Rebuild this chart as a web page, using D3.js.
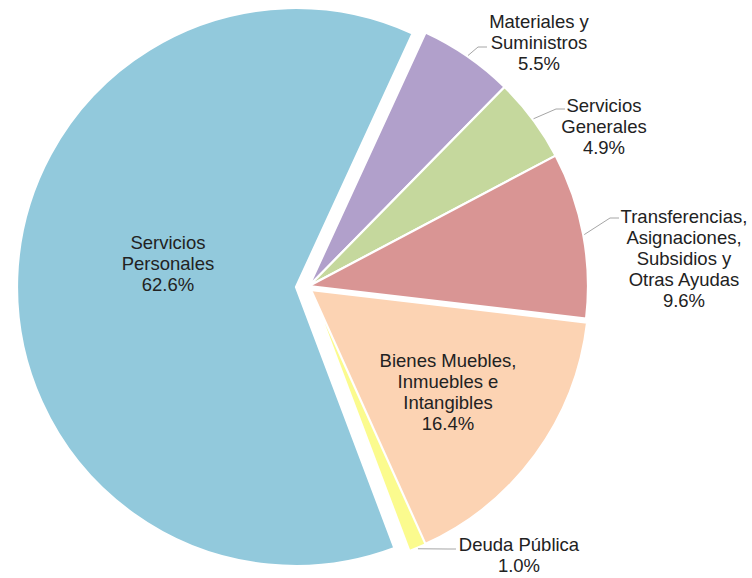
<!DOCTYPE html>
<html>
  <head>
    <meta charset="utf-8">
    <script src="https://cdn.jsdelivr.net/npm/d3@7"></script>
    <style>
      body { margin: 0; background: #fff; }
      .lbl { font-family: "Liberation Sans", Arial, sans-serif; font-size: 18.5px; fill: #222; }
      .leader { fill: none; stroke: #a6a6a6; stroke-width: 1; }
    </style>
  </head>
  <body>
    <div id="chart"></div>
    <script>
    // data
    var categories = ['Materiales y Suministros', 'Servicios Generales',
      'Transferencias, Asignaciones, Subsidios y Otras Ayudas',
      'Bienes Muebles, Inmuebles e Intangibles', 'Deuda Pública', 'Servicios Personales'];
    var shares = [5.5, 4.9, 9.6, 16.4, 1.0, 62.6];
    var labelLines = [
      ['Materiales y', 'Suministros'],
      ['Servicios', 'Generales'],
      ['Transferencias,', 'Asignaciones,', 'Subsidios y', 'Otras Ayudas'],
      ['Bienes Muebles,', 'Inmuebles e', 'Intangibles'],
      ['Deuda Pública'],
      ['Servicios', 'Personales']
    ];

    // look
    var colors = ['#b1a0cb', '#c5d89d', '#d99594', '#fcd3b3', '#fbfb8e', '#92c9dc'];
    var width = 752, height = 578;
    var cx = 309, cy = 286, radius = 279;
    var startDeg = 24.7;
    // small explode offsets per slice (px)
    var shift = [[0, 0], [0, 0], [0, 0], [1, 4], [2, 4], [-13, 1]];
    // label placement: centre x, first baseline, optional leader anchor
    var labelPos = [
      { x: 539, y: 28, lead: [487, 47] },
      { x: 604, y: 112, lead: [565, 109] },
      { x: 684, y: 223, lead: [619, 218] },
      { x: 448, y: 367 },
      { x: 519, y: 551, lead: [456, 549] },
      { x: 168, y: 249 }
    ];
    var lineH = 21;

    var svg = d3.select('#chart').append('svg')
      .attr('width', width).attr('height', height);

    var g = svg.append('g').attr('transform', 'translate(' + cx + ',' + cy + ')');

    var a0 = startDeg * Math.PI / 180;
    var pie = d3.pie().sort(null).value(function(d) { return d; })
      .startAngle(a0).endAngle(a0 + 2 * Math.PI);
    var arcs = pie(shares);
    var arc = d3.arc().innerRadius(0).outerRadius(radius);

    g.selectAll('path.slice')
      .data(arcs)
      .enter()
      .append('path')
      .attr('class', 'slice')
      .attr('d', arc)
      .attr('transform', function(d, i) { return 'translate(' + shift[i][0] + ',' + shift[i][1] + ')'; })
      .attr('fill', function(d, i) { return colors[i]; })
      .attr('stroke', '#fff')
      .attr('stroke-width', 2.2)
      .attr('stroke-linejoin', 'round');

    // leader lines
    arcs.forEach(function(d, i) {
      var p = labelPos[i];
      if (!p.lead) return;
      var mid = (d.startAngle + d.endAngle) / 2;
      var x0 = cx + shift[i][0] + (radius + 1) * Math.sin(mid);
      var y0 = cy + shift[i][1] - (radius + 1) * Math.cos(mid);
      var pts = [[x0, y0], [p.lead[0] - 9, p.lead[1]], p.lead];
      svg.append('path')
        .attr('class', 'leader')
        .attr('d', d3.line()(pts));
    });

    // labels
    arcs.forEach(function(d, i) {
      var p = labelPos[i];
      var lines = labelLines[i].concat([d3.format('.1f')(shares[i]) + '%']);
      var t = svg.append('text')
        .attr('class', 'lbl')
        .attr('text-anchor', 'middle');
      lines.forEach(function(s, k) {
        t.append('tspan')
          .attr('x', p.x)
          .attr('y', p.y + k * lineH)
          .text(s);
      });
    });
    </script>
  </body>
</html>
